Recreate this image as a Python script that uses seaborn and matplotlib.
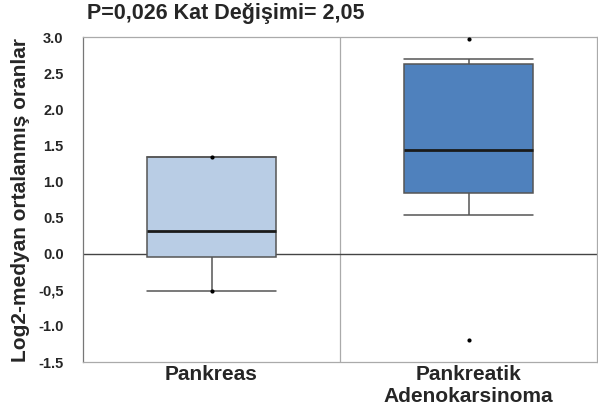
import numpy as np
import pandas as pd
import matplotlib
matplotlib.use("Agg")
import matplotlib.pyplot as plt
import seaborn as sns

# Categories and per-group sample values (read from the box summaries)
categories = ["Pankreas", "Pankreatik\nAdenokarsinoma"]
pankreas_values = [-0.51, -0.51, -0.06, -0.03, 0.10, 0.315, 0.80, 1.34, 1.34, 1.34, 1.34]
adeno_values = [-1.19, 0.53, 0.82, 0.85, 1.10, 1.43, 2.00, 2.61, 2.65, 2.70, 2.97]
box_colors = ["#b9cde5", "#4f81bd"]
ytick_values = [3.0, 2.5, 2.0, 1.5, 1.0, 0.5, 0.0, -0.5, -1.0, -1.5]
ytick_labels = ["3.0", "2.5", "2.0", "1.5", "1.0", "0.5", "0.0", "-0,5", "-1.0", "-1.5"]
title = "P=0,026 Kat Değişimi= 2,05"
ylabel = "Log2-medyan ortalanmış oranlar"

df = pd.DataFrame({
    "grup": [categories[0]] * len(pankreas_values) + [categories[1]] * len(adeno_values),
    "deger": pankreas_values + adeno_values,
})
ext = df.groupby("grup", sort=False)["deger"].agg(["min", "max"]).reset_index()
ext = ext.melt(id_vars="grup", value_name="deger")

sns.set_theme(style="white")
plt.rcParams["font.family"] = ["Liberation Sans", "DejaVu Sans"]

fig = plt.figure(figsize=(5.98, 4.16), dpi=100)
ax = fig.add_axes([83 / 598, 1 - 362 / 416, 514 / 598, 325 / 416])

BOX_W = 0.5
sns.boxplot(data=df, x="grup", y="deger", hue="grup", palette=box_colors,
            order=categories, hue_order=categories, legend=False,
            whis=(10, 90), showfliers=False, width=BOX_W, saturation=1,
            ax=ax, linecolor="#555555", linewidth=1.1,
            medianprops=dict(color="#1a1a1a", linewidth=2),
            whiskerprops=dict(color="#555555", linewidth=1.1),
            capprops=dict(color="#555555", linewidth=1.1),
            boxprops=dict(edgecolor="#555555"))

# widen whisker caps to the full box width, as in the reference
for ln in ax.lines:
    xd = np.asarray(ln.get_xdata(), dtype=float)
    yd = np.asarray(ln.get_ydata(), dtype=float)
    if len(xd) == 2 and yd[0] == yd[1]:
        w = abs(xd[1] - xd[0])
        if 0.01 < w < BOX_W * 0.9:
            c = xd.mean()
            ln.set_xdata([c - BOX_W / 2, c + BOX_W / 2])

sns.stripplot(data=ext, x="grup", y="deger", order=categories, color="black",
              size=3, jitter=False, ax=ax, zorder=5)

ax.axhline(0, color="#444444", linewidth=1, zorder=1.5)
ax.axvline(0.5, color="#aaaaaa", linewidth=0.9, zorder=0.5)
ax.set_xlim(-0.5, 1.5)
ax.set_ylim(-1.5, 3.0)
ax.set_yticks(ytick_values)
ax.set_yticklabels(ytick_labels, fontsize=10.5, fontweight="bold")
ax.tick_params(axis="y", length=0, pad=14)
ax.tick_params(axis="x", length=0, pad=2)
for lbl in ax.get_xticklabels():
    lbl.set_fontsize(15)
    lbl.set_fontweight("bold")
ax.set_xlabel("")
ax.set_ylabel(ylabel, fontsize=15, fontweight="bold")
ax.yaxis.set_label_coords(-0.104, 0.5)

for side in ["top", "right", "bottom"]:
    ax.spines[side].set_color("#aaaaaa")
    ax.spines[side].set_linewidth(0.9)
ax.spines["left"].set_color("#777777")
ax.spines["left"].set_linewidth(0.9)

fig.text(87 / 598, 1 - 14 / 416, title, fontsize=15.5, fontweight="bold",
         ha="left", va="center")

fig.savefig("out.png", dpi=100)
